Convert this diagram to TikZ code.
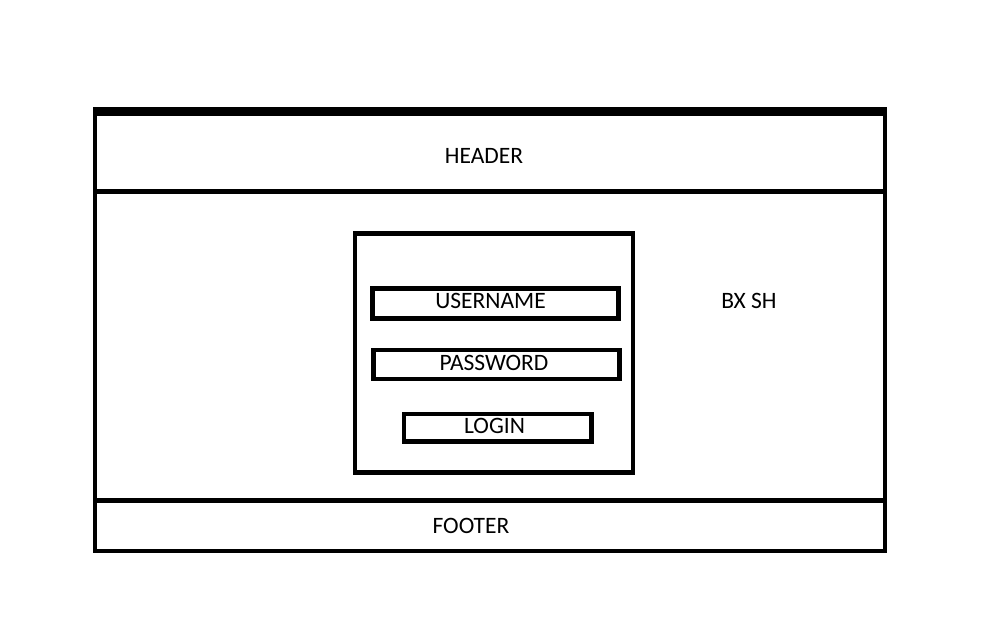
\documentclass[tikz,border=0pt]{standalone}
\usepackage{fontspec}
\setmainfont{Carlito}
\begin{document}
\begin{tikzpicture}[x=1pt,y=-1pt,
  boxstyle/.style={draw=black,line width=4.8pt,inner sep=0pt,outer sep=0pt,fill=none},
  lbl/.style={inner sep=0pt,anchor=base,font=\fontsize{23.5}{27}\selectfont}]
\useasboundingbox[fill=white] (0,0) rectangle (985,635);
% outer frame and bands
\node[boxstyle,minimum width=790pt,minimum height=441.5pt] (frame) at (490,330.25) {};
\node[boxstyle,minimum width=790pt,minimum height=78pt] (header) at (490,152.5) {};
\node[boxstyle,minimum width=790pt,minimum height=50.5pt] (footer) at (490,525.75) {};
% login panel
\node[boxstyle,minimum width=278pt,minimum height=239pt] (panel) at (494,353) {};
\node[boxstyle,minimum width=246pt,minimum height=30pt] (user) at (495.5,303.5) {};
\node[boxstyle,minimum width=246pt,minimum height=29pt] (pass) at (496.5,364.5) {};
\node[boxstyle,minimum width=187.5pt,minimum height=27.5pt] (login) at (497.75,427.75) {};
% texts
\node[lbl] (theader) at (484,163) {HEADER};
\node[lbl] (tuser) at (490.5,308.5) {USERNAME};
\node[lbl] (tpass) at (494,370) {PASSWORD};
\node[lbl] (tlogin) at (494.5,433) {LOGIN};
\node[lbl] (tbx) at (749,308) {BX SH};
\node[lbl] (tfooter) at (471,533) {FOOTER};
\end{tikzpicture}
\end{document}
